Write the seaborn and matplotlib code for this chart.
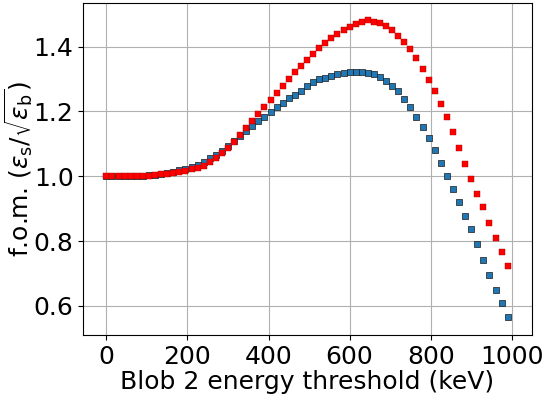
import matplotlib
matplotlib.use("Agg")
import matplotlib.pyplot as plt
import seaborn as sns
import pandas as pd

# Blob 2 energy thresholds (keV)
threshold_kev = [
    0, 15, 30, 45, 60, 75, 90, 105, 120, 135, 150, 165, 180, 195, 210, 225,
    240, 255, 270, 285, 300, 315, 330, 345, 360, 375, 390, 405, 420, 435, 450,
    465, 480, 495, 510, 525, 540, 555, 570, 585, 600, 615, 630, 645, 660, 675,
    690, 705, 720, 735, 750, 765, 780, 795, 810, 825, 840, 855, 870, 885, 900,
    915, 930, 945, 960, 975, 990,
]

# figure of merit, first configuration (blue)
fom_blue = [
    1.000, 1.000, 1.000, 1.000, 1.000, 1.001, 1.002, 1.003, 1.005, 1.008,
    1.011, 1.014, 1.018, 1.023, 1.028, 1.036, 1.045, 1.056, 1.066, 1.079,
    1.094, 1.110, 1.124, 1.140, 1.155, 1.170, 1.184, 1.198, 1.213, 1.227,
    1.241, 1.252, 1.264, 1.279, 1.291, 1.299, 1.304, 1.310, 1.315, 1.320,
    1.323, 1.323, 1.322, 1.319, 1.314, 1.307, 1.295, 1.280, 1.262, 1.238,
    1.214, 1.184, 1.153, 1.118, 1.081, 1.040, 1.001, 0.960, 0.922, 0.877,
    0.836, 0.790, 0.742, 0.695, 0.649, 0.610, 0.567,
]

# figure of merit, second configuration (red)
fom_red = [
    1.000, 1.000, 1.000, 1.000, 1.000, 1.000, 1.001, 1.002, 1.003, 1.006,
    1.008, 1.010, 1.013, 1.016, 1.021, 1.026, 1.032, 1.043, 1.056, 1.071,
    1.088, 1.107, 1.127, 1.148, 1.170, 1.192, 1.214, 1.235, 1.258, 1.280,
    1.300, 1.321, 1.340, 1.359, 1.378, 1.396, 1.411, 1.427, 1.440, 1.452,
    1.462, 1.471, 1.475, 1.481, 1.477, 1.472, 1.464, 1.450, 1.434, 1.414,
    1.392, 1.364, 1.330, 1.297, 1.264, 1.222, 1.182, 1.137, 1.088, 1.038,
    0.991, 0.946, 0.904, 0.857, 0.809, 0.765, 0.722,
]

x_ticks = [0, 200, 400, 600, 800, 1000]
y_ticks = [0.6, 0.8, 1.0, 1.2, 1.4]

df = pd.DataFrame({"thr": threshold_kev, "blue": fom_blue, "red": fom_red})

fig = plt.figure(figsize=(5.43, 3.97), dpi=100)
ax = fig.add_axes([0.1534, 0.156, 0.8256, 0.836])

sns.scatterplot(data=df, x="thr", y="blue", marker="s", s=24,
                color="#1f77b4", edgecolor="#1a1a1a", linewidth=0.5, ax=ax,
                zorder=3)
sns.scatterplot(data=df, x="thr", y="red", marker="s", s=24,
                color="#ff0000", edgecolor="#a00000", linewidth=0.3, ax=ax,
                zorder=4)

ax.set_xlim(-57, 1049)
ax.set_ylim(0.51, 1.534)
ax.set_xticks(x_ticks)
ax.set_yticks(y_ticks)
ax.set_xticklabels([str(v) for v in x_ticks])
ax.set_yticklabels([f"{v:.1f}" for v in y_ticks])
ax.tick_params(labelsize=18)
ax.grid(True, color="#b0b0b0", linewidth=0.8, zorder=0)
ax.set_axisbelow(True)

ax.set_xlabel("Blob 2 energy threshold (keV)", fontsize=18, labelpad=1)
ax.set_ylabel(r"f.o.m. ($\varepsilon_\mathrm{s}/\sqrt{\varepsilon_\mathrm{b}}$)",
              fontsize=18)
ax.yaxis.set_label_coords(-0.106, 0.5)

fig.savefig("out.png", dpi=100)
